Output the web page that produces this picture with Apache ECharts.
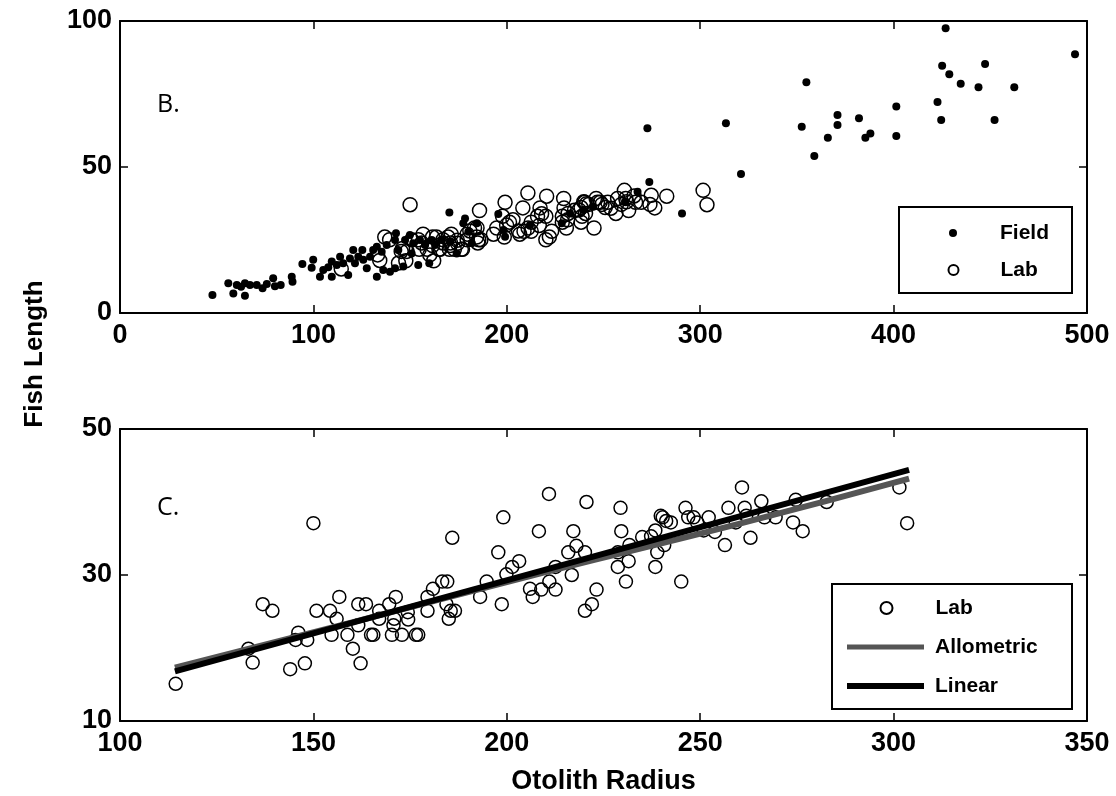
<!DOCTYPE html>
<html>
<head>
<meta charset="utf-8">
<script src="https://cdn.jsdelivr.net/npm/echarts@6/dist/echarts.min.js"></script>
<style>html,body{margin:0;padding:0;background:#fff}#c{width:1116px;height:796px}</style>
</head>
<body>
<div id="c"></div>
<script>
// ---- data ----
const fieldPoints = [[47.8,6.2],[56.0,10.2],[58.6,6.7],[60.4,9.6],[62.6,9.0],[64.6,5.9],[64.6,10.2],[67.2,9.6],[70.7,9.6],[73.7,8.5],[75.9,9.9],[79.2,11.9],[80.1,9.2],[83.1,9.6],[88.8,12.4],[89.2,10.7],[94.3,16.8],[99.1,15.5],[99.9,18.2],[103.4,12.4],[105.1,14.7],[107.7,15.7],[109.5,12.4],[109.5,17.6],[112.1,16.4],[113.8,19.3],[115.4,17.0],[118.0,13.0],[118.9,18.7],[120.6,21.6],[121.5,17.0],[123.2,19.3],[125.3,21.6],[125.8,18.2],[127.6,15.3],[129.3,19.3],[130.9,21.6],[132.8,12.4],[132.8,22.7],[135.3,21.0],[136.1,14.7],[137.9,23.3],[139.6,14.1],[142.2,15.3],[142.7,27.3],[142.2,25.0],[143.9,21.6],[146.5,15.9],[147.4,25.0],[149.9,26.7],[150.8,20.4],[151.6,23.9],[154.2,16.4],[155.1,25.0],[157.7,23.3],[159.9,17.0],[161.2,25.0],[162.9,23.3],[166.4,25.0],[170.3,34.4],[170.6,24.4],[174.1,20.4],[177.5,30.7],[178.4,32.4],[180.1,27.8],[184.5,30.7],[181.9,23.9],[195.6,33.9],[198.2,28.4],[199.1,26.1],[212.0,30.1],[228.4,30.7],[232.7,34.1],[239.5,35.3],[244.7,36.4],[261.1,38.1],[267.6,41.5],[272.7,63.3],[273.7,44.9],[290.6,34.1],[313.3,65.0],[321.1,47.6],[352.5,63.8],[354.9,79.0],[359.0,53.8],[366.0,60.0],[371.0,67.8],[371.0,64.4],[382.1,66.7],[385.4,60.0],[388.0,61.5],[401.4,70.7],[401.4,60.6],[422.7,72.3],[424.6,66.1],[425.1,84.7],[426.9,97.5],[428.8,81.8],[434.7,78.5],[443.9,77.3],[447.3,85.3],[452.2,66.1],[462.4,77.3],[493.8,88.6]];

const labPoints = [[114.4,15.1],[134.3,18.0],[133.2,19.9],[136.9,26.0],[139.4,25.1],[144.0,17.1],[147.8,17.9],[145.4,21.1],[146.1,22.1],[148.4,21.1],[150.0,37.1],[150.8,25.1],[154.3,25.1],[154.7,21.8],[156.0,24.0],[156.7,27.0],[158.8,21.8],[160.2,19.9],[161.6,23.1],[162.2,17.9],[161.6,26.0],[163.6,26.0],[165.5,21.8],[164.9,21.8],[167.0,25.1],[167.0,24.0],[169.6,26.0],[171.3,27.0],[170.3,21.8],[170.7,23.1],[170.9,24.0],[172.9,21.8],[174.4,24.9],[174.5,23.9],[176.5,21.8],[177.1,21.8],[179.5,25.1],[179.5,27.0],[180.9,28.1],[183.3,29.1],[184.6,29.1],[184.4,26.0],[185.0,24.0],[185.5,25.1],[186.6,25.1],[185.9,35.1],[193.1,27.0],[194.8,29.1],[197.8,33.1],[199.1,37.9],[198.7,26.0],[199.9,30.1],[201.4,31.1],[203.2,31.9],[206.0,28.1],[206.7,27.0],[208.3,36.0],[208.9,28.0],[210.9,41.1],[211.0,29.1],[212.6,31.1],[212.6,28.0],[215.9,33.1],[217.2,36.0],[218.0,34.0],[216.8,30.0],[220.2,33.1],[220.6,40.0],[223.2,28.0],[222.0,26.0],[220.2,25.1],[228.7,31.1],[229.6,36.0],[229.4,39.2],[228.7,33.1],[230.8,29.1],[231.5,31.9],[231.7,34.1],[235.0,35.2],[237.3,35.3],[238.4,31.1],[238.4,36.1],[238.9,33.1],[239.8,38.1],[240.3,37.9],[241.2,37.4],[242.4,37.2],[240.7,34.1],[245.1,29.1],[246.2,39.2],[246.9,37.9],[248.3,37.9],[249.2,37.2],[250.9,36.1],[252.2,37.9],[253.8,35.9],[256.4,34.1],[257.3,39.2],[259.2,37.2],[260.8,42.0],[261.5,39.2],[261.9,38.1],[263.0,35.1],[265.8,40.1],[266.6,37.9],[269.5,37.9],[274.0,37.2],[276.5,36.0],[274.7,40.3],[282.7,40.0],[301.5,42.0],[303.5,37.1]];

const allometricFit = [[114.2,17.3],[160,23.5],[210,30.4],[260,37.0],[304.0,43.2]];
const linearFit = [[114.2,16.8],[304.0,44.4]];

const topXTicks = {min:0, max:500, interval:100};
const topYTicks = {min:0, max:100, interval:50};
const botXTicks = {min:100, max:350, interval:50};
const botYTicks = {min:10, max:50, interval:20};

// ---- chart ----
const FONT = 'Liberation Sans, Arial, sans-serif';
const chart = echarts.init(document.getElementById('c'), null, {renderer:'canvas'});

function axisBase(t, show, pos, grid, isX){
  return {
    type:'value', gridIndex:grid, position:pos, min:t.min, max:t.max, interval:t.interval,
    axisLine:{show:true, onZero:false, lineStyle:{color:'#000', width:2}},
    axisTick:{show:true, inside:true, length:8, lineStyle:{color:'#000', width:1.5}},
    axisLabel:{show:show, color:'#000', fontFamily:FONT, fontWeight:'bold', fontSize:27, margin: isX ? 9 : 8},
    splitLine:{show:false}
  };
}

const openCircle = {color:'rgba(0,0,0,0)', borderColor:'#000', borderWidth:1.5, opacity:1};
const legText = {fontFamily:FONT, fontWeight:'bold', fontSize:21, color:'#000', lineHeight:22};

function leg(name, left, centerY, w, h, pad){
  return {
    data:[name], left:left, top:centerY-11, orient:'vertical', padding:0,
    itemWidth:w, itemHeight:h, selectedMode:false,
    textStyle:Object.assign({padding:[0,0,0,pad]}, legText)
  };
}

const botX = axisBase(botXTicks, true, 'bottom', 1, true);
botX.name = 'Otolith Radius';
botX.nameLocation = 'middle';
botX.nameGap = 47;
botX.nameTextStyle = {fontFamily:FONT, fontWeight:'bold', fontSize:27, color:'#000'};

const panelFont = {fontFamily:'Open Sans, Noto Sans, sans-serif', fontWeight:'normal', fontSize:25, color:'#000'};

chart.setOption({
  animation:false,
  backgroundColor:'#fff',
  grid:[
    {left:120, right:29, top:21, height:292},
    {left:120, right:29, top:429, height:294}
  ],
  xAxis:[
    axisBase(topXTicks, true, 'bottom', 0, true),
    axisBase(topXTicks, false, 'top', 0, true),
    botX,
    axisBase(botXTicks, false, 'top', 1, true)
  ],
  yAxis:[
    axisBase(topYTicks, true, 'left', 0, false),
    axisBase(topYTicks, false, 'right', 0, false),
    axisBase(botYTicks, true, 'left', 1, false),
    axisBase(botYTicks, false, 'right', 1, false)
  ],
  title:[
    {text:'B.', left:157, top:92, padding:0, textStyle:panelFont},
    {text:'C.', left:157, top:495, padding:0, textStyle:panelFont}
  ],
  legend:[
    Object.assign(leg('Field', 949, 233, 8, 8, 38), {icon:'circle'}),
    Object.assign(leg('Lab', 947.5, 270, 10, 10, 37), {icon:'circle'}),
    Object.assign(leg('Lab', 879.5, 608, 12, 12, 38), {icon:'circle'}),
    Object.assign(leg('Allometric', 847, 647, 77, 5, 6), {icon:'rect'}),
    Object.assign(leg('Linear', 847, 686, 77, 6, 6), {icon:'rect'})
  ],
  graphic:[
    {type:'rect', z:1, shape:{x:899, y:207, width:173, height:86}, style:{fill:'#fff', stroke:'#000', lineWidth:2}},
    {type:'rect', z:1, shape:{x:832, y:584, width:240, height:125}, style:{fill:'#fff', stroke:'#000', lineWidth:2}},
    {type:'text', x:35, y:354, rotation:Math.PI/2, style:{text:'Fish Length', fontFamily:FONT, fontWeight:'bold', fontSize:26, fill:'#000', align:'center', verticalAlign:'middle'}}
  ],
  series:[
    {name:'Field', type:'scatter', xAxisIndex:0, yAxisIndex:0, data:fieldPoints, symbol:'circle', symbolSize:8, itemStyle:{color:'#000', opacity:1}, z:3},
    {name:'Lab', type:'scatter', xAxisIndex:0, yAxisIndex:0, data:labPoints, symbol:'circle', symbolSize:14, itemStyle:openCircle, z:2},
    {name:'Lab', type:'scatter', xAxisIndex:2, yAxisIndex:2, data:labPoints, symbol:'circle', symbolSize:13, itemStyle:openCircle, z:2},
    {name:'Allometric', type:'line', xAxisIndex:2, yAxisIndex:2, data:allometricFit, showSymbol:false, smooth:true, color:'#555', itemStyle:{color:'#555'}, lineStyle:{color:'#555', width:6}, z:3},
    {name:'Linear', type:'line', xAxisIndex:2, yAxisIndex:2, data:linearFit, showSymbol:false, color:'#000', itemStyle:{color:'#000'}, lineStyle:{color:'#000', width:6}, z:4}
  ]
});
</script>
</body>
</html>
